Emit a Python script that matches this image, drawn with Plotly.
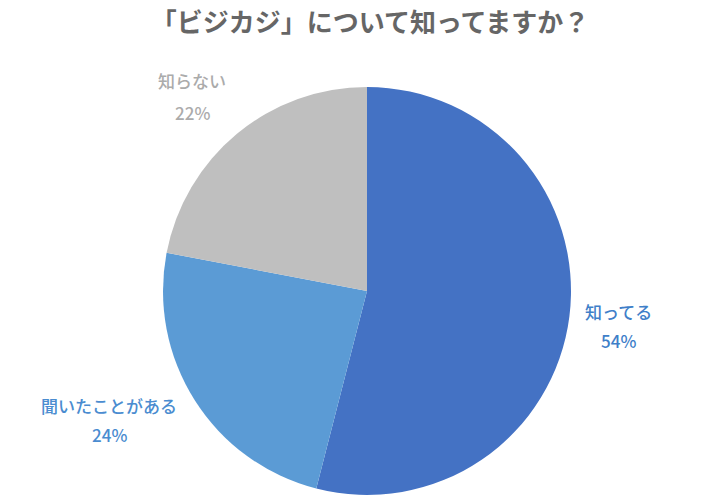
import plotly.graph_objects as go

# data
labels = ["知ってる", "聞いたことがある", "知らない"]
values = [54, 24, 22]
slice_colors = ["#4472C4", "#5B9BD5", "#BFBFBF"]
label_colors = ["#3F7FC9", "#4A8CD0", "#ABABAB"]
title_text = "「ビジカジ」について知ってますか？"

# page body has an 8px margin, so the figure is drawn 8px in from the corner
W, H, OFF = 712, 492, 8


def px_x(x):
    return (x - OFF) / W


def px_y(y):
    return 1 - (y - OFF) / H


fig = go.Figure(go.Pie(
    labels=labels,
    values=values,
    sort=False,
    direction="clockwise",
    rotation=0,
    marker=dict(colors=slice_colors, line=dict(width=0)),
    textinfo="none",
    hoverinfo="label+percent",
    domain=dict(x=[px_x(163), px_x(571)], y=[px_y(495), px_y(87)]),
    showlegend=False,
))

# label / percent centres in the reference picture (pixels)
label_pos = [(618, 311, 340), (109, 405, 434), (192, 80, 112)]
for lab, val, col, (x, y1, y2) in zip(labels, values, label_colors, label_pos):
    for txt, y in ((lab, y1), (f"{val}%", y2)):
        fig.add_annotation(
            x=px_x(x), y=px_y(y), xref="paper", yref="paper",
            xanchor="center", yanchor="middle",
            text=txt, showarrow=False,
            font=dict(size=17, color=col, family="Noto Sans CJK JP", weight=500),
        )

fig.update_layout(
    width=W, height=H,
    margin=dict(l=0, r=0, t=0, b=0),
    paper_bgcolor="white",
    title=dict(text=title_text, x=px_x(370), y=px_y(23), xanchor="center", yanchor="middle",
               font=dict(size=26, color="#666666", family="Noto Sans CJK JP", weight=700)),
    font=dict(family="Noto Sans CJK JP"),
)

fig.write_html("out.html")
